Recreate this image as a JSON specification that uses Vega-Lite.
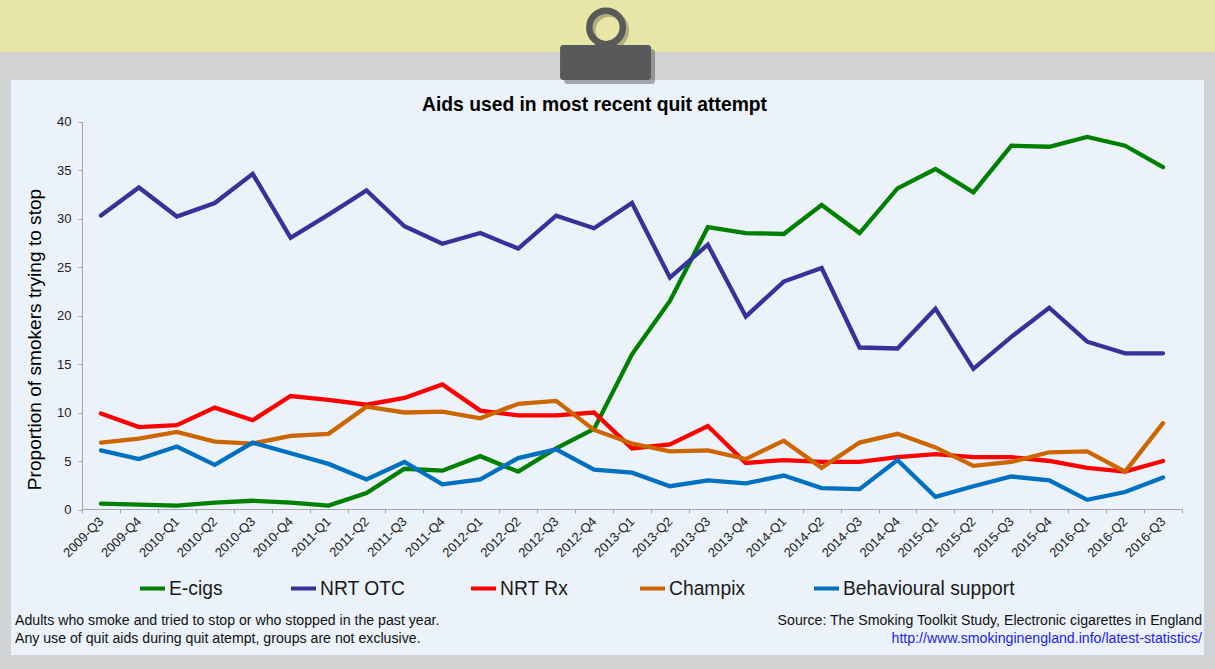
{"$schema":"https://vega.github.io/schema/vega-lite/v6.json","width":1215,"height":669,"padding":0,"autosize":{"type":"none"},"background":"#d1d2d4",
"title":{"text":"Aids used in most recent quit attempt","orient":"top","anchor":"middle","frame":"group","offset":-118,"dx":-13,"font":"Liberation Sans","fontSize":19.3,"fontWeight":"bold","color":"#000000"},
"config":{"view":{"fill":"#ebf2f9","stroke":"#d1d2d4","strokeWidth":22},"font":"Liberation Sans","legend":{"title":null,"orient":"none","legendY":574,"symbolType":"stroke","symbolSize":625,"symbolStrokeWidth":4,"labelFontSize":19.3,"labelColor":"#1a1a1a","labelOffset":2,"labelLimit":400,"labelFont":"Liberation Sans"}},
"datasets":{"main":[
{"q":"2009-Q3","s":"E-cigs","v":0.6},{"q":"2009-Q4","s":"E-cigs","v":0.5},{"q":"2010-Q1","s":"E-cigs","v":0.4},{"q":"2010-Q2","s":"E-cigs","v":0.7},{"q":"2010-Q3","s":"E-cigs","v":0.9},{"q":"2010-Q4","s":"E-cigs","v":0.7},{"q":"2011-Q1","s":"E-cigs","v":0.4},{"q":"2011-Q2","s":"E-cigs","v":1.7},{"q":"2011-Q3","s":"E-cigs","v":4.2},{"q":"2011-Q4","s":"E-cigs","v":4.0},{"q":"2012-Q1","s":"E-cigs","v":5.5},{"q":"2012-Q2","s":"E-cigs","v":3.9},{"q":"2012-Q3","s":"E-cigs","v":6.3},{"q":"2012-Q4","s":"E-cigs","v":8.3},{"q":"2013-Q1","s":"E-cigs","v":16},{"q":"2013-Q2","s":"E-cigs","v":21.5},{"q":"2013-Q3","s":"E-cigs","v":29.1},{"q":"2013-Q4","s":"E-cigs","v":28.5},{"q":"2014-Q1","s":"E-cigs","v":28.4},{"q":"2014-Q2","s":"E-cigs","v":31.4},{"q":"2014-Q3","s":"E-cigs","v":28.5},{"q":"2014-Q4","s":"E-cigs","v":33.1},{"q":"2015-Q1","s":"E-cigs","v":35.1},{"q":"2015-Q2","s":"E-cigs","v":32.7},{"q":"2015-Q3","s":"E-cigs","v":37.5},{"q":"2015-Q4","s":"E-cigs","v":37.4},{"q":"2016-Q1","s":"E-cigs","v":38.4},{"q":"2016-Q2","s":"E-cigs","v":37.5},{"q":"2016-Q3","s":"E-cigs","v":35.3},
{"q":"2009-Q3","s":"NRT OTC","v":30.3},{"q":"2009-Q4","s":"NRT OTC","v":33.2},{"q":"2010-Q1","s":"NRT OTC","v":30.2},{"q":"2010-Q2","s":"NRT OTC","v":31.6},{"q":"2010-Q3","s":"NRT OTC","v":34.6},{"q":"2010-Q4","s":"NRT OTC","v":28},{"q":"2011-Q1","s":"NRT OTC","v":30.4},{"q":"2011-Q2","s":"NRT OTC","v":32.9},{"q":"2011-Q3","s":"NRT OTC","v":29.2},{"q":"2011-Q4","s":"NRT OTC","v":27.4},{"q":"2012-Q1","s":"NRT OTC","v":28.5},{"q":"2012-Q2","s":"NRT OTC","v":26.9},{"q":"2012-Q3","s":"NRT OTC","v":30.3},{"q":"2012-Q4","s":"NRT OTC","v":29},{"q":"2013-Q1","s":"NRT OTC","v":31.6},{"q":"2013-Q2","s":"NRT OTC","v":23.9},{"q":"2013-Q3","s":"NRT OTC","v":27.3},{"q":"2013-Q4","s":"NRT OTC","v":19.9},{"q":"2014-Q1","s":"NRT OTC","v":23.5},{"q":"2014-Q2","s":"NRT OTC","v":24.9},{"q":"2014-Q3","s":"NRT OTC","v":16.7},{"q":"2014-Q4","s":"NRT OTC","v":16.6},{"q":"2015-Q1","s":"NRT OTC","v":20.7},{"q":"2015-Q2","s":"NRT OTC","v":14.5},{"q":"2015-Q3","s":"NRT OTC","v":17.8},{"q":"2015-Q4","s":"NRT OTC","v":20.8},{"q":"2016-Q1","s":"NRT OTC","v":17.3},{"q":"2016-Q2","s":"NRT OTC","v":16.1},{"q":"2016-Q3","s":"NRT OTC","v":16.1},
{"q":"2009-Q3","s":"NRT Rx","v":9.9},{"q":"2009-Q4","s":"NRT Rx","v":8.5},{"q":"2010-Q1","s":"NRT Rx","v":8.7},{"q":"2010-Q2","s":"NRT Rx","v":10.5},{"q":"2010-Q3","s":"NRT Rx","v":9.2},{"q":"2010-Q4","s":"NRT Rx","v":11.7},{"q":"2011-Q1","s":"NRT Rx","v":11.3},{"q":"2011-Q2","s":"NRT Rx","v":10.8},{"q":"2011-Q3","s":"NRT Rx","v":11.5},{"q":"2011-Q4","s":"NRT Rx","v":12.9},{"q":"2012-Q1","s":"NRT Rx","v":10.2},{"q":"2012-Q2","s":"NRT Rx","v":9.7},{"q":"2012-Q3","s":"NRT Rx","v":9.7},{"q":"2012-Q4","s":"NRT Rx","v":10},{"q":"2013-Q1","s":"NRT Rx","v":6.3},{"q":"2013-Q2","s":"NRT Rx","v":6.7},{"q":"2013-Q3","s":"NRT Rx","v":8.6},{"q":"2013-Q4","s":"NRT Rx","v":4.8},{"q":"2014-Q1","s":"NRT Rx","v":5.1},{"q":"2014-Q2","s":"NRT Rx","v":4.9},{"q":"2014-Q3","s":"NRT Rx","v":4.9},{"q":"2014-Q4","s":"NRT Rx","v":5.4},{"q":"2015-Q1","s":"NRT Rx","v":5.7},{"q":"2015-Q2","s":"NRT Rx","v":5.4},{"q":"2015-Q3","s":"NRT Rx","v":5.4},{"q":"2015-Q4","s":"NRT Rx","v":5.0},{"q":"2016-Q1","s":"NRT Rx","v":4.3},{"q":"2016-Q2","s":"NRT Rx","v":3.9},{"q":"2016-Q3","s":"NRT Rx","v":5.0},
{"q":"2009-Q3","s":"Champix","v":6.9},{"q":"2009-Q4","s":"Champix","v":7.3},{"q":"2010-Q1","s":"Champix","v":8},{"q":"2010-Q2","s":"Champix","v":7},{"q":"2010-Q3","s":"Champix","v":6.8},{"q":"2010-Q4","s":"Champix","v":7.6},{"q":"2011-Q1","s":"Champix","v":7.8},{"q":"2011-Q2","s":"Champix","v":10.6},{"q":"2011-Q3","s":"Champix","v":10},{"q":"2011-Q4","s":"Champix","v":10.1},{"q":"2012-Q1","s":"Champix","v":9.4},{"q":"2012-Q2","s":"Champix","v":10.9},{"q":"2012-Q3","s":"Champix","v":11.2},{"q":"2012-Q4","s":"Champix","v":8.2},{"q":"2013-Q1","s":"Champix","v":6.8},{"q":"2013-Q2","s":"Champix","v":6},{"q":"2013-Q3","s":"Champix","v":6.1},{"q":"2013-Q4","s":"Champix","v":5.2},{"q":"2014-Q1","s":"Champix","v":7.1},{"q":"2014-Q2","s":"Champix","v":4.3},{"q":"2014-Q3","s":"Champix","v":6.9},{"q":"2014-Q4","s":"Champix","v":7.8},{"q":"2015-Q1","s":"Champix","v":6.4},{"q":"2015-Q2","s":"Champix","v":4.5},{"q":"2015-Q3","s":"Champix","v":4.9},{"q":"2015-Q4","s":"Champix","v":5.9},{"q":"2016-Q1","s":"Champix","v":6},{"q":"2016-Q2","s":"Champix","v":3.9},{"q":"2016-Q3","s":"Champix","v":8.9},
{"q":"2009-Q3","s":"Behavioural support","v":6.1},{"q":"2009-Q4","s":"Behavioural support","v":5.2},{"q":"2010-Q1","s":"Behavioural support","v":6.5},{"q":"2010-Q2","s":"Behavioural support","v":4.6},{"q":"2010-Q3","s":"Behavioural support","v":6.9},{"q":"2010-Q4","s":"Behavioural support","v":5.8},{"q":"2011-Q1","s":"Behavioural support","v":4.7},{"q":"2011-Q2","s":"Behavioural support","v":3.1},{"q":"2011-Q3","s":"Behavioural support","v":4.9},{"q":"2011-Q4","s":"Behavioural support","v":2.6},{"q":"2012-Q1","s":"Behavioural support","v":3.1},{"q":"2012-Q2","s":"Behavioural support","v":5.3},{"q":"2012-Q3","s":"Behavioural support","v":6.2},{"q":"2012-Q4","s":"Behavioural support","v":4.1},{"q":"2013-Q1","s":"Behavioural support","v":3.8},{"q":"2013-Q2","s":"Behavioural support","v":2.4},{"q":"2013-Q3","s":"Behavioural support","v":3},{"q":"2013-Q4","s":"Behavioural support","v":2.7},{"q":"2014-Q1","s":"Behavioural support","v":3.5},{"q":"2014-Q2","s":"Behavioural support","v":2.2},{"q":"2014-Q3","s":"Behavioural support","v":2.1},{"q":"2014-Q4","s":"Behavioural support","v":5.1},{"q":"2015-Q1","s":"Behavioural support","v":1.3},{"q":"2015-Q2","s":"Behavioural support","v":2.4},{"q":"2015-Q3","s":"Behavioural support","v":3.4},{"q":"2015-Q4","s":"Behavioural support","v":3},{"q":"2016-Q1","s":"Behavioural support","v":1},{"q":"2016-Q2","s":"Behavioural support","v":1.8},{"q":"2016-Q3","s":"Behavioural support","v":3.3}
]},
"layer":[
{"data":{"values":[{"part":"band","l":52.6,"l2":47.16}]},"mark":{"type":"rect","fill":"#e8e6a6"},"encoding":{"y":{"field":"l","type":"quantitative"},"y2":{"field":"l2"}}},
{"data":{"values":[{"part":"top margin","l":47.16,"l2":44.28}]},"mark":{"type":"rect","fill":"#d1d2d4"},"encoding":{"y":{"field":"l","type":"quantitative"},"y2":{"field":"l2"}}},
{"data":{"values":[{"part":"bottom margin","l":-15.0,"l2":-16.6}]},"mark":{"type":"rect","fill":"#d1d2d4"},"encoding":{"y":{"field":"l","type":"quantitative"},"y2":{"field":"l2"}}},
{"data":{"name":"main"},"encoding":{
"x":{"field":"q","type":"nominal","sort":null,"scale":{"type":"band","paddingInner":0,"paddingOuter":0,"range":[82,1182]},"axis":{"title":null,"orient":"bottom","offset":-160,"tickBand":"extent","labelAngle":-45,"labelAlign":"right","labelBaseline":"middle","labelFontSize":13,"labelColor":"#222222","labelPadding":6,"labelOverlap":false,"labelLimit":200,"tickColor":"#a6a6a6","domainColor":"#a6a6a6","tickSize":4,"grid":false}},
"y":{"field":"v","type":"quantitative","scale":{"domain":[0,40],"range":[509.5,121.5],"nice":false},"axis":{"title":"Proportion of smokers trying to stop","orient":"left","offset":-82,"values":[0,5,10,15,20,25,30,35,40],"titleFontSize":19.1,"titleFontWeight":"normal","titleColor":"#000000","titleX":-38,"titleY":339,"titleAngle":-90,"labelFontSize":13,"labelColor":"#222222","labelPadding":7,"tickColor":"#a6a6a6","domainColor":"#a6a6a6","tickSize":4,"grid":false}}},
"resolve":{"scale":{"color":"independent"}},
"layer":[
{"transform":[{"filter":"datum.s == 'E-cigs'"}],"mark":{"type":"line","strokeWidth":4.3,"strokeCap":"round","strokeJoin":"miter"},"encoding":{"color":{"field":"s","type":"nominal","scale":{"range":["#008000"]},"legend":{"legendX":138}}}},
{"transform":[{"filter":"datum.s == 'NRT OTC'"}],"mark":{"type":"line","strokeWidth":4.3,"strokeCap":"round","strokeJoin":"miter"},"encoding":{"color":{"field":"s","type":"nominal","scale":{"range":["#333399"]},"legend":{"legendX":289}}}},
{"transform":[{"filter":"datum.s == 'NRT Rx'"}],"mark":{"type":"line","strokeWidth":4.3,"strokeCap":"round","strokeJoin":"miter"},"encoding":{"color":{"field":"s","type":"nominal","scale":{"range":["#ff0000"]},"legend":{"legendX":469}}}},
{"transform":[{"filter":"datum.s == 'Champix'"}],"mark":{"type":"line","strokeWidth":4.3,"strokeCap":"round","strokeJoin":"miter"},"encoding":{"color":{"field":"s","type":"nominal","scale":{"range":["#cc6600"]},"legend":{"legendX":638}}}},
{"transform":[{"filter":"datum.s == 'Behavioural support'"}],"mark":{"type":"line","strokeWidth":4.3,"strokeCap":"round","strokeJoin":"miter"},"encoding":{"color":{"field":"s","type":"nominal","scale":{"range":["#0070c0"]},"legend":{"legendX":812}}}}
]},
{"data":{"values":[{"part":"clip ring shadow","q":"2012-Q4","l":49.4}]},"mark":{"type":"point","filled":false,"stroke":"#6b6a45","strokeWidth":6.5,"size":1122,"opacity":0.45,"xOffset":15},"encoding":{"x":{"field":"q","type":"nominal"},"y":{"field":"l","type":"quantitative"}}},
{"data":{"values":[{"part":"clip shadow","q":"2012-Q4","l":46.08}]},"mark":{"type":"rect","fill":"#3a3a3a","opacity":0.4,"width":91,"height":35,"xOffset":15.5,"yOffset":4,"cornerRadius":3},"encoding":{"x":{"field":"q","type":"nominal"},"y":{"field":"l","type":"quantitative"}}},
{"data":{"values":[{"part":"clip ring","q":"2012-Q4","l":49.7}]},"mark":{"type":"point","filled":false,"stroke":"#58595b","strokeWidth":6.5,"size":1122,"opacity":1,"xOffset":12},"encoding":{"x":{"field":"q","type":"nominal"},"y":{"field":"l","type":"quantitative"}}},
{"data":{"values":[{"part":"clip neck","q":"2012-Q4","l":49.7}]},"mark":{"type":"point","filled":true,"fill":"#58595b","strokeWidth":0,"opacity":1,"size":1600,"xOffset":12,"shape":"M-0.93,0.35 L-0.45,0.95 L0.45,0.95 L0.93,0.35 L0.6,0.31 A0.675,0.675 0 0 1 -0.6,0.31 Z"},"encoding":{"x":{"field":"q","type":"nominal"},"y":{"field":"l","type":"quantitative"}}},
{"data":{"values":[{"part":"clip body","q":"2012-Q4","l":46.08}]},"mark":{"type":"rect","fill":"#58595b","width":91,"height":35,"xOffset":11.5,"cornerRadius":3},"encoding":{"x":{"field":"q","type":"nominal"},"y":{"field":"l","type":"quantitative"}}},
{"data":{"values":[{"t":"Adults who smoke and tried to stop or who stopped in the past year.","q":"2009-Q3","l":-11.45},{"t":"Any use of quit aids during quit atempt, groups are not exclusive.","q":"2009-Q3","l":-13.3}]},"mark":{"type":"text","align":"left","baseline":"middle","dx":-86,"fontSize":14.15,"font":"Liberation Sans","color":"#111111"},"encoding":{"x":{"field":"q","type":"nominal"},"y":{"field":"l","type":"quantitative"},"text":{"field":"t"}}},
{"data":{"values":[{"t":"Source: The Smoking Toolkit Study, Electronic cigarettes in England","q":"2016-Q3","l":-11.45,"c":"black"},{"t":"http://www.smokinginengland.info/latest-statistics/","q":"2016-Q3","l":-13.3,"c":"link"}]},"mark":{"type":"text","align":"right","baseline":"middle","dx":39,"fontSize":14.15,"font":"Liberation Sans"},"encoding":{"x":{"field":"q","type":"nominal"},"y":{"field":"l","type":"quantitative"},"text":{"field":"t"},"fill":{"field":"c","type":"nominal","scale":{"domain":["black","link"],"range":["#111111","#2222ee"]},"legend":null}}}
]}
